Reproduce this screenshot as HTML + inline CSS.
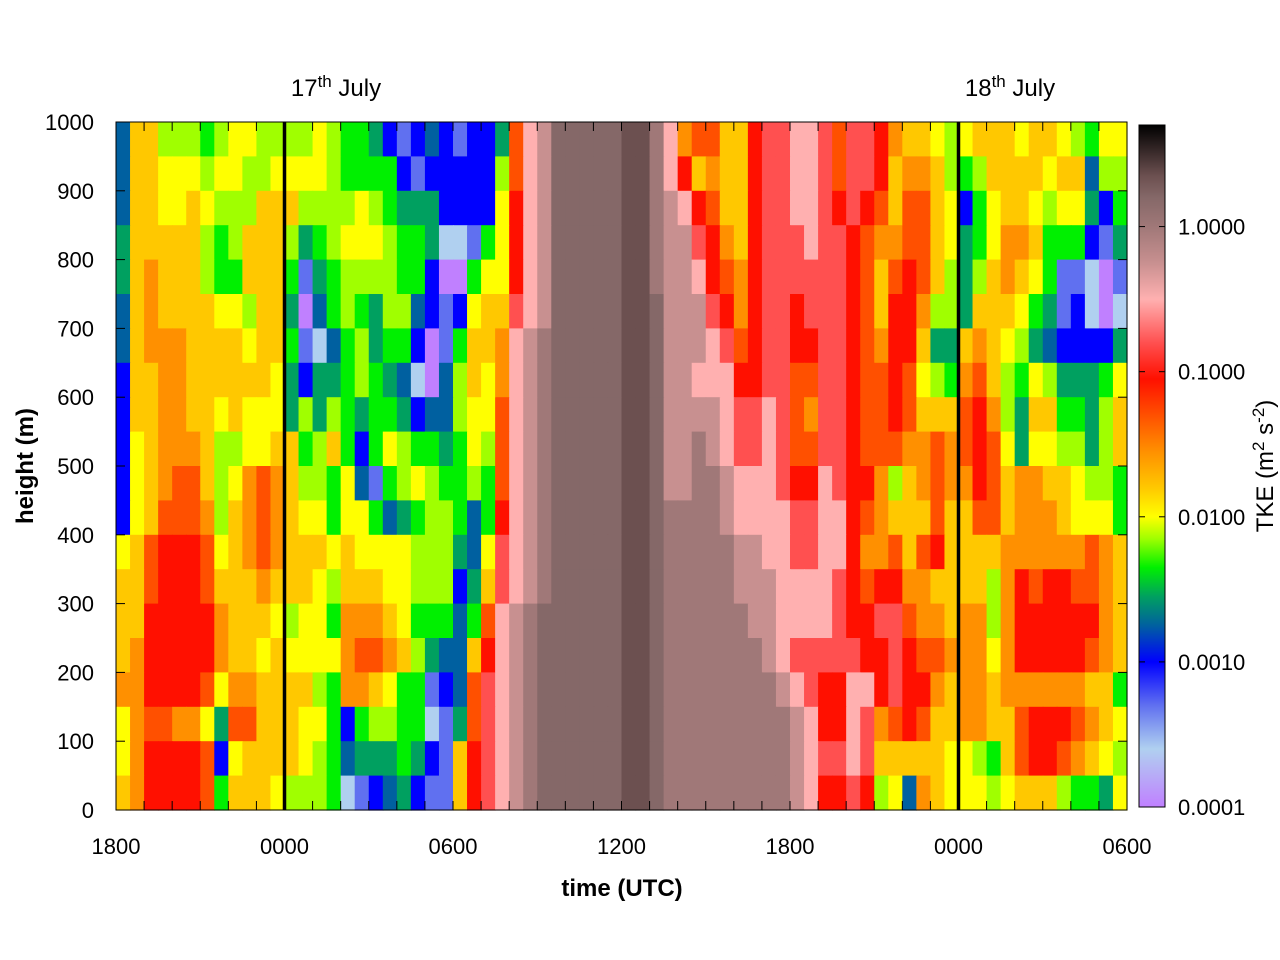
<!DOCTYPE html>
<html><head><meta charset="utf-8"><style>
html,body{margin:0;padding:0;background:#fff;}
svg{display:block;font-family:"Liberation Sans",sans-serif;}
</style></head><body>
<svg id="chart" width="1280" height="960" viewBox="0 0 1280 960" xmlns="http://www.w3.org/2000/svg">
<g id="cells"></g>
<g id="axes"></g>
<g id="cbar"></g>
<text x="336" y="96" font-size="24" text-anchor="middle">17<tspan dy="-9" font-size="17">th</tspan><tspan dy="9"> July</tspan></text>
<text x="1010" y="96" font-size="24" text-anchor="middle">18<tspan dy="-9" font-size="17">th</tspan><tspan dy="9"> July</tspan></text>
<text x="622" y="896" font-size="24" font-weight="bold" text-anchor="middle">time (UTC)</text>
<text x="0" y="0" font-size="24" font-weight="bold" text-anchor="middle" transform="translate(33,466) rotate(-90)">height (m)</text>
<text x="0" y="0" font-size="24" text-anchor="middle" transform="translate(1273,466) rotate(-90)">TKE (m<tspan dy="-9" font-size="17">2</tspan><tspan dy="9"> s</tspan><tspan dy="-9" font-size="17">-2</tspan><tspan dy="9">)</tspan></text>
</svg>
<script>
// ---- data ----
const timeLabels = ["1800","0000","0600","1200","1800","0000","0600"];
const timeLabelSteps = [0,12,24,36,48,60,72];   // in half-hour steps
const dayLineSteps = [12,60];
const heightTicks = [0,100,200,300,400,500,600,700,800,900,1000];
const cbarTickValues = [1,0.1,0.01,0.001,0.0001];
const cbarTickLabels = ["1.0000","0.1000","0.0100","0.0010","0.0001"];
// level codes -> log10(TKE)
const codeKeys = "0123456789abcdefghi";
const codeValues = [-4.0,-3.6,-3.3,-3.0,-2.75,-2.55,-2.35,-2.15,-2.0,-1.8,-1.55,-1.3,-1.05,-0.8,-0.5,-0.25,0.0,0.2,0.35];
// rows top (950-1000 m) to bottom (0-50 m); 72 half-hour columns from 1800
const tkeRows = [
"499777678877778766532343"+"2335befhhhhhiigeabb99cdd"+"eedbddca9987"+"899989987688",
"499888788778888766663233"+"3337befhhhhhiigec9a99cdd"+"eedbddc9aa97"+"679999899477",
"499889877799977778765553"+"3338cefhhhhhiigfecb99cdd"+"eedcdcb9bb98"+"368998788536",
"599999767999756788876651"+"1268cefhhhhhiigffdca9cdd"+"deddcbaabb98"+"568aa9666325",
"59a999766999625677776630"+"0688cefhhhhhiigffecbacdd"+"ddddcb9bcb97"+"579a98622102",
"49a999988799504676577432"+"3899defhhhhhiihfffdcacdd"+"cdddcb9cca77"+"599986523101",
"49aaa9999899621467566302"+"699aefghhhhhiihfffedbcdd"+"ccddcbacc955"+"9a9875433335",
"399aa9999998535567654104"+"798aefghhhhhiihffeeeccdd"+"bbddcbbcb876"+"ab9768755568",
"399aa9989888575765665344"+"788befghhhhhiihffffedded"+"baddcbbcb999"+"bca759966579",
"389aaa977889967963687665"+"687befghhhhhiihffgfedded"+"bbddcbbbaaba"+"bcb858877579",
"389abb978aba977684267876"+"676befghhhhhiihffggfeeed"+"ccedcca79aba"+"acb9aa998776",
"389bbba79aba988688645677"+"646cefghhhhhiihggggfeeee"+"ddeecba999b9"+"9bb9aaa98886",
"89bcccb89aba999898888777"+"548defghhhhhiihgggggffee"+"ddeecaab9bc9"+"999aaaaaaba9",
"99bcccb999a9998799988777"+"359defghhhhhiihgggggfffe"+"eeedcbccaa99"+"997acbccbba9",
"99ccccca99987886aaa98666"+"46befghhhhhhiihggggggffe"+"eeedccddbaa9"+"aa7acccccca9",
"9accccca99898888abba9754"+"49cefghhhhhhiihgggggggfe"+"dddddccdcbba"+"aa8acccccba9",
"aaccccb8aa999976aa986623"+"4bdefghhhhhhiihggggggggf"+"edcceecdcca9"+"aa9aaaaaa996",
"8abbaa85bb99988636776612"+"5bdefghhhhhhiihggggggggg"+"feccedabcb99"+"aa99bcccba98",
"8accccb38999987645556532"+"9cdefghhhhhhiihggggggggg"+"fedded999998"+"8769bccba987",
"9accccb69998777612345322"+"9cdefghhhhhhiihggggggggg"+"feccdc784a98"+"887899976658"
];
// ---- colormap stops (log10 value -> colour) ----
const stopVals = [-4.0,-3.6,-3.3,-3.0,-2.75,-2.55,-2.35,-2.15,-2.0,-1.8,-1.55,-1.3,-1.05,-0.8,-0.5,-0.25,0.0,0.2,0.35,0.7];
const stopCols = ["#c080ff","#b0d0f0","#6070f0","#0000ff","#0060a0","#00a060","#00f000","#a0ff00","#ffff00","#ffc800","#ff9000","#ff5000","#ff1000","#ff5050","#ffb0b0","#c89090","#a07878","#856868","#6c5050","#000000"];

const NS="http://www.w3.org/2000/svg";
const X0=116,X1=1127,Y0=810,Y1=122;
const NCOL=72, HMAX=1000;
function xScale(step){return X0+(X1-X0)*step/NCOL;}
function yScale(h){return Y0-(Y0-Y1)*h/HMAX;}
const CB_X=1139,CB_W=26,CB_TOP=125,CB_BOT=807,CB_MIN=-4,CB_MAX=0.7;
function cbScale(lv){return CB_BOT-(CB_BOT-CB_TOP)*(lv-CB_MIN)/(CB_MAX-CB_MIN);}
function hex(c){return [parseInt(c.substr(1,2),16),parseInt(c.substr(3,2),16),parseInt(c.substr(5,2),16)];}
function colorFor(v){
  if(v<=stopVals[0])return stopCols[0];
  for(let i=1;i<stopVals.length;i++){
    if(v<=stopVals[i]){
      const t=(v-stopVals[i-1])/(stopVals[i]-stopVals[i-1]);
      const a=hex(stopCols[i-1]),b=hex(stopCols[i]);
      return "rgb("+a.map((x,k)=>Math.round(x+(b[k]-x)*t)).join(",")+")";
    }
  }
  return stopCols[stopCols.length-1];
}
function mk(tag,attrs,parent){const e=document.createElementNS(NS,tag);for(const k in attrs)e.setAttribute(k,attrs[k]);parent.appendChild(e);return e;}

// cells
const cells=document.getElementById("cells");
const nRows=tkeRows.length, dh=HMAX/nRows;
tkeRows.forEach((row,r)=>{
  const hTop=HMAX-r*dh, hBot=hTop-dh;
  for(let c=0;c<NCOL;c++){
    const ch=row[c]||row[row.length-1];
    const v=codeValues[codeKeys.indexOf(ch)];
    const x=xScale(c), w=xScale(c+1)-x+0.6;
    const y=yScale(hTop), h=yScale(hBot)-y+0.6;
    const rect=mk("rect",{x:x,y:y,width:w,height:h,fill:colorFor(v)},cells);
    
    
  }
});

// axes
const axes=document.getElementById("axes");
dayLineSteps.forEach(s=>{
  const l=mk("line",{x1:xScale(s),x2:xScale(s),y1:Y1,y2:Y0,stroke:"#000","stroke-width":3.5},axes);
  
  
});
const frame=mk("rect",{x:X0,y:Y1,width:X1-X0,height:Y0-Y1,fill:"none",stroke:"#000","stroke-width":1},axes);


for(let s=0;s<=NCOL;s+=2){
  const x=xScale(s);
  mk("line",{x1:x,x2:x,y1:Y0,y2:Y0-9,stroke:"#000","stroke-width":1},axes);
  mk("line",{x1:x,x2:x,y1:Y1,y2:Y1+9,stroke:"#000","stroke-width":1},axes);
}
timeLabels.forEach((t,i)=>{
  const tx=mk("text",{x:xScale(timeLabelSteps[i]),y:854,"font-size":22,"text-anchor":"middle"},axes);
  tx.textContent=t;
  
  
});
heightTicks.forEach(h=>{
  const y=yScale(h);
  mk("line",{x1:X0,x2:X0+9,y1:y,y2:y,stroke:"#000","stroke-width":1},axes);
  mk("line",{x1:X1,x2:X1-9,y1:y,y2:y,stroke:"#000","stroke-width":1},axes);
  const tx=mk("text",{x:94,y:y+8,"font-size":22,"text-anchor":"end"},axes);
  tx.textContent=String(h);
  
  
});

// colorbar
const cbar=document.getElementById("cbar");
for(let y=CB_TOP;y<CB_BOT;y+=1){
  const lv=CB_MIN+(CB_MAX-CB_MIN)*(CB_BOT-y-0.5)/(CB_BOT-CB_TOP);
  mk("rect",{x:CB_X,y:y,width:CB_W,height:1.2,fill:colorFor(lv)},cbar);
}
const cbf=mk("rect",{x:CB_X,y:CB_TOP,width:CB_W,height:CB_BOT-CB_TOP,fill:"none",stroke:"#000","stroke-width":1},cbar);


cbarTickValues.forEach((v,i)=>{
  const y=cbScale(Math.log10(v));
  mk("line",{x1:CB_X,x2:CB_X+6,y1:y,y2:y,stroke:"#000"},cbar);
  mk("line",{x1:CB_X+CB_W,x2:CB_X+CB_W-6,y1:y,y2:y,stroke:"#000"},cbar);
  const tx=mk("text",{x:1178,y:y+8,"font-size":22},cbar);
  tx.textContent=cbarTickLabels[i];
  
  
});
</script>
</body></html>
